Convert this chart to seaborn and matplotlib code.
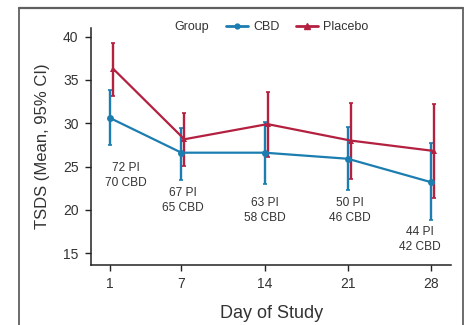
import numpy as np
import pandas as pd
import matplotlib
matplotlib.use("Agg")
import matplotlib.pyplot as plt
import seaborn as sns
from matplotlib.lines import Line2D

# TSDS by day of study, mean and 95% CI per group
days = [1, 7, 14, 21, 28]
cbd_mean = [30.6, 26.6, 26.6, 25.9, 23.2]
cbd_lo = [27.5, 23.5, 23.0, 22.3, 18.8]
cbd_hi = [33.8, 29.5, 30.2, 29.6, 27.7]
pl_mean = [36.3, 28.15, 29.9, 28.0, 26.8]
pl_lo = [33.2, 25.1, 26.1, 23.6, 21.35]
pl_hi = [39.3, 31.2, 33.65, 32.3, 32.2]

# sample sizes shown under each day
n_labels = ["72 PI\n70 CBD", "67 PI\n65 CBD", "63 PI\n58 CBD", "50 PI\n46 CBD", "44 PI\n42 CBD"]
n_x = [2.3, 7.1, 14.0, 21.2, 27.1]
n_y = [24.0, 21.1, 19.95, 19.95, 16.55]

blue = "#1b7db0"
red = "#b42040"
txt = "#333333"

sns.set_style("ticks")
plt.rcParams['font.family'] = ['Liberation Sans', 'DejaVu Sans']

df = pd.DataFrame({
    'x': days + [d + 0.25 for d in days],
    'mean': cbd_mean + pl_mean,
    'lo': cbd_lo + pl_lo,
    'hi': cbd_hi + pl_hi,
    'group': ['CBD'] * 5 + ['Placebo'] * 5,
})

fig = plt.figure(figsize=(4.67, 3.25), dpi=100)
ax = fig.add_axes([0.195, 0.185, 0.771, 0.729])

pal = {'CBD': blue, 'Placebo': red}
for g, sub in df.groupby('group'):
    ax.errorbar(sub['x'], sub['mean'],
                yerr=[sub['mean'] - sub['lo'], sub['hi'] - sub['mean']],
                fmt='none', ecolor=pal[g], elinewidth=1.7, capsize=1.5, capthick=1.2, zorder=2)

sns.lineplot(data=df, x='x', y='mean', hue='group', style='group', palette=pal,
             markers={'CBD': 'o', 'Placebo': '^'}, dashes=False, linewidth=1.6,
             markersize=5, markeredgewidth=0, ax=ax, legend=False, zorder=3)

for lab, xx, yy in zip(n_labels, n_x, n_y):
    ax.text(xx, yy, lab, ha='center', va='center', fontsize=8.6, color=txt, linespacing=1.3)

ax.set_xlim(-0.6, 29.7)
ax.set_ylim(13.65, 41.0)
ax.set_xticks(days)
ax.set_yticks([15, 20, 25, 30, 35, 40])
ax.tick_params(axis='both', labelsize=10, length=4, width=1, pad=5,
               colors='#222222', labelcolor=txt)
for s in ['left', 'bottom']:
    ax.spines[s].set_linewidth(1.1)
    ax.spines[s].set_color('#222222')
sns.despine(ax=ax)

ax.set_xlabel('Day of Study', fontsize=13, color=txt, labelpad=10)
ax.set_ylabel('TSDS (Mean, 95% CI)', fontsize=12, color=txt, labelpad=9)

# legend row at the top
handles = [
    Line2D([], [], color='none', label='Group'),
    Line2D([], [], color=blue, marker='o', markersize=3.5, lw=2, label='CBD'),
    Line2D([], [], color=red, marker='^', markersize=4, lw=2, label='Placebo'),
]
leg = fig.legend(handles=handles, loc='center', bbox_to_anchor=(0.552, 0.917), ncol=3,
                 frameon=False, fontsize=9, handlelength=1.8, handletextpad=0.4,
                 columnspacing=1.3)
for t in leg.get_texts():
    t.set_color(txt)

# grey frame round the figure (open at the bottom)
x0, x1, y0 = 19 / 467, 463 / 467, 1 - 8 / 325
frame = '#606060'
fig.add_artist(Line2D([x0, x1], [y0, y0], transform=fig.transFigure, color=frame, lw=1.6, zorder=10))
fig.add_artist(Line2D([x0, x0], [0, y0], transform=fig.transFigure, color=frame, lw=1.3, zorder=10))
fig.add_artist(Line2D([x1, x1], [0, y0], transform=fig.transFigure, color=frame, lw=1.3, zorder=10))

fig.savefig('out.png', dpi=100)
